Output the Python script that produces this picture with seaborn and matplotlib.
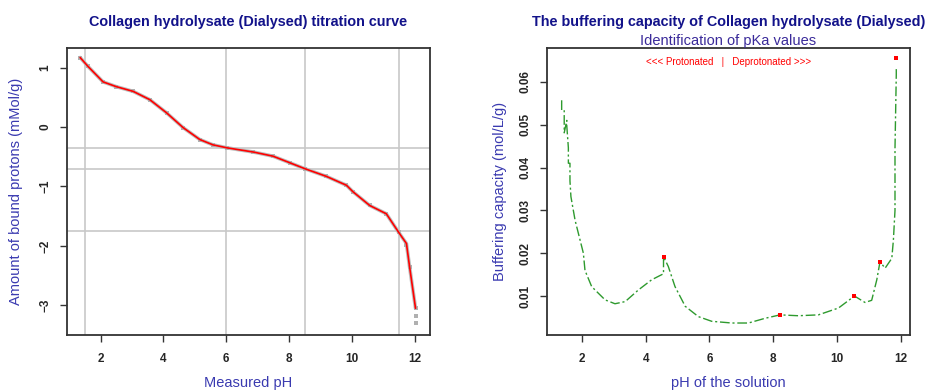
import numpy as np
import pandas as pd
import seaborn as sns
import matplotlib
matplotlib.use("Agg")
import matplotlib.pyplot as plt

# ---- Left panel: titration curve ----
ph_obs = [1.35, 1.6, 2.08, 2.5, 3.04, 3.57, 4.1, 4.63, 5.16, 5.58, 6.03, 6.86, 7.49,
          8.02, 8.5, 9.19, 9.83, 10.04, 10.57, 11.1, 11.49, 11.74, 11.84, 12.03, 12.03, 12.03]
bound_obs = [1.17, 1.02, 0.76, 0.68, 0.6, 0.46, 0.24, -0.01, -0.21, -0.3, -0.35, -0.42, -0.49,
             -0.6, -0.7, -0.83, -0.98, -1.09, -1.32, -1.46, -1.77, -1.98, -2.35, -3.05, -3.18, -3.3]
ph_fit = [1.35, 1.6, 2.08, 2.5, 3.04, 3.57, 4.1, 4.63, 5.16, 5.58, 6.03, 6.86, 7.49,
          8.02, 8.5, 9.19, 9.83, 10.04, 10.57, 11.1, 11.49, 11.74, 11.84, 12.03]
bound_fit = [1.17, 1.02, 0.76, 0.68, 0.6, 0.46, 0.24, -0.01, -0.21, -0.3, -0.35, -0.42, -0.49,
             -0.6, -0.7, -0.83, -0.98, -1.09, -1.32, -1.46, -1.77, -1.96, -2.35, -3.05]
vlines_ph = [1.5, 6.0, 8.5, 11.5]
hlines_bound = [-0.35, -0.70, -1.75]
left_xticks = [2, 4, 6, 8, 10, 12]
left_yticks = [1, 0, -1, -2, -3]

# ---- Right panel: buffering capacity ----
ph_buf = [1.37, 1.37, 1.45, 1.45, 1.53, 1.53, 1.58, 1.58, 1.63, 1.63, 1.66, 1.79, 2.05, 2.10,
          2.31, 2.73, 3.04, 3.36, 3.77, 4.19, 4.56, 4.56, 4.71, 4.92, 5.24, 5.65, 6.07, 6.70,
          7.22, 7.74, 8.21, 8.78, 9.41, 10.04, 10.54, 10.87, 11.08, 11.24, 11.34, 11.50,
          11.71, 11.76, 11.81, 11.81, 11.85, 11.85]
buf_cap = [0.0557, 0.0534, 0.0534, 0.0481, 0.0510, 0.0498, 0.0446, 0.0410, 0.0410, 0.0369,
           0.0332, 0.0277, 0.0200, 0.0160, 0.0122, 0.0091, 0.0082, 0.0087, 0.0114, 0.0138,
           0.0152, 0.0192, 0.0169, 0.0122, 0.0076, 0.0052, 0.0041, 0.0037, 0.0037, 0.0048,
           0.0056, 0.0054, 0.0056, 0.0072, 0.0100, 0.0085, 0.0090, 0.0138, 0.0180, 0.0165,
           0.0188, 0.0231, 0.0300, 0.0445, 0.0616, 0.0635]
pka_ph = [4.56, 8.21, 10.54, 11.34, 11.85]
pka_cap = [0.0192, 0.0056, 0.0100, 0.0180, 0.0655]
right_xticks = [2, 4, 6, 8, 10, 12]
right_yticks = [0.01, 0.02, 0.03, 0.04, 0.05, 0.06]

sns.set_style("white")
plt.rcParams['font.family'] = ['Liberation Sans', 'DejaVu Sans']

NAVY = "#12128a"
LABEL = "#3a3ab0"

fig = plt.figure(figsize=(9.30, 3.91), dpi=100)
ax1 = fig.add_axes([0.072, 0.1432, 0.390, 0.734])
ax2 = fig.add_axes([0.5878, 0.1432, 0.3907, 0.734])

# Left panel
for v in vlines_ph:
    ax1.axvline(v, color="#c8c8c8", lw=1.2, zorder=1)
for h in hlines_bound:
    ax1.axhline(h, color="#c8c8c8", lw=1.2, zorder=1)
df_obs = pd.DataFrame({"ph": ph_obs, "bound": bound_obs})
df_fit = pd.DataFrame({"ph": ph_fit, "bound": bound_fit})
sns.lineplot(data=df_fit, x="ph", y="bound", ax=ax1, color="#bdbdbd", lw=2.6,
             sort=False, estimator=None, zorder=2)
sns.scatterplot(data=df_obs, x="ph", y="bound", ax=ax1, color="#b0b0b0", s=7,
                marker="s", linewidth=0, zorder=2)
sns.lineplot(data=df_fit, x="ph", y="bound", ax=ax1, color="red", lw=1.2,
             sort=False, estimator=None, zorder=3)
ax1.set_xlim(0.93, 12.48)
ax1.set_ylim(-3.5, 1.33)
ax1.set_xticks(left_xticks)
ax1.set_yticks(left_yticks)
ax1.set_xlabel("Measured pH", color=LABEL, fontsize=10.5, labelpad=8)
ax1.set_ylabel("Amount of bound protons (mMol/g)", color=LABEL, fontsize=10.5, labelpad=12)
ax1.set_title("Collagen hydrolysate (Dialysed) titration curve", color=NAVY,
              fontsize=10.4, fontweight="bold", pad=16)

# Right panel
df_buf = pd.DataFrame({"ph": ph_buf, "cap": buf_cap})
df_pka = pd.DataFrame({"ph": pka_ph, "cap": pka_cap})
sns.lineplot(data=df_buf, x="ph", y="cap", ax=ax2, color="#2e9a2e", lw=1.0,
             sort=False, estimator=None, dashes=False, zorder=2)
ax2.lines[-1].set_dashes([7, 2, 1.5, 2])
sns.scatterplot(data=df_pka, x="ph", y="cap", ax=ax2, color="red", s=9, marker="s",
                linewidth=0, zorder=3)
ax2.set_xlim(0.9, 12.28)
ax2.set_ylim(0.0009, 0.0679)
ax2.set_xticks(right_xticks)
ax2.set_yticks(right_yticks)
ax2.set_yticklabels(["0.01", "0.02", "0.03", "0.04", "0.05", "0.06"])
ax2.set_xlabel("pH of the solution", color=LABEL, fontsize=10.5, labelpad=8)
ax2.set_ylabel("Buffering capacity (mol/L/g)", color=LABEL, fontsize=10.5, labelpad=9)
ax2.set_title("The buffering capacity of Collagen hydrolysate (Dialysed)", color=NAVY,
              fontsize=10.4, fontweight="bold", pad=16)
ax2.text(0.5, 1.024, "Identification of pKa values", transform=ax2.transAxes,
         ha="center", va="center", color="#3a2a9a", fontsize=10.5)
ax2.text(0.5, 0.97, "<<< Protonated   |   Deprotonated >>>", transform=ax2.transAxes,
         ha="center", va="top", color="red", fontsize=7)

for ax in (ax1, ax2):
    for s in ax.spines.values():
        s.set_visible(True)
        s.set_color("#333333")
        s.set_linewidth(1.3)
    ax.tick_params(axis="x", direction="out", length=5, width=1, color="#333333",
                   labelsize=8.5, bottom=True, pad=8)
    ax.tick_params(axis="y", direction="out", length=5, width=1, color="#333333",
                   labelsize=8.5, left=True, pad=6)
    for lab in ax.get_xticklabels() + ax.get_yticklabels():
        lab.set_fontweight("bold")
    for lab in ax.get_yticklabels():
        lab.set_rotation(90)
        lab.set_va("center")
    ax.grid(False)

fig.savefig("out.png", dpi=100, facecolor="white")
